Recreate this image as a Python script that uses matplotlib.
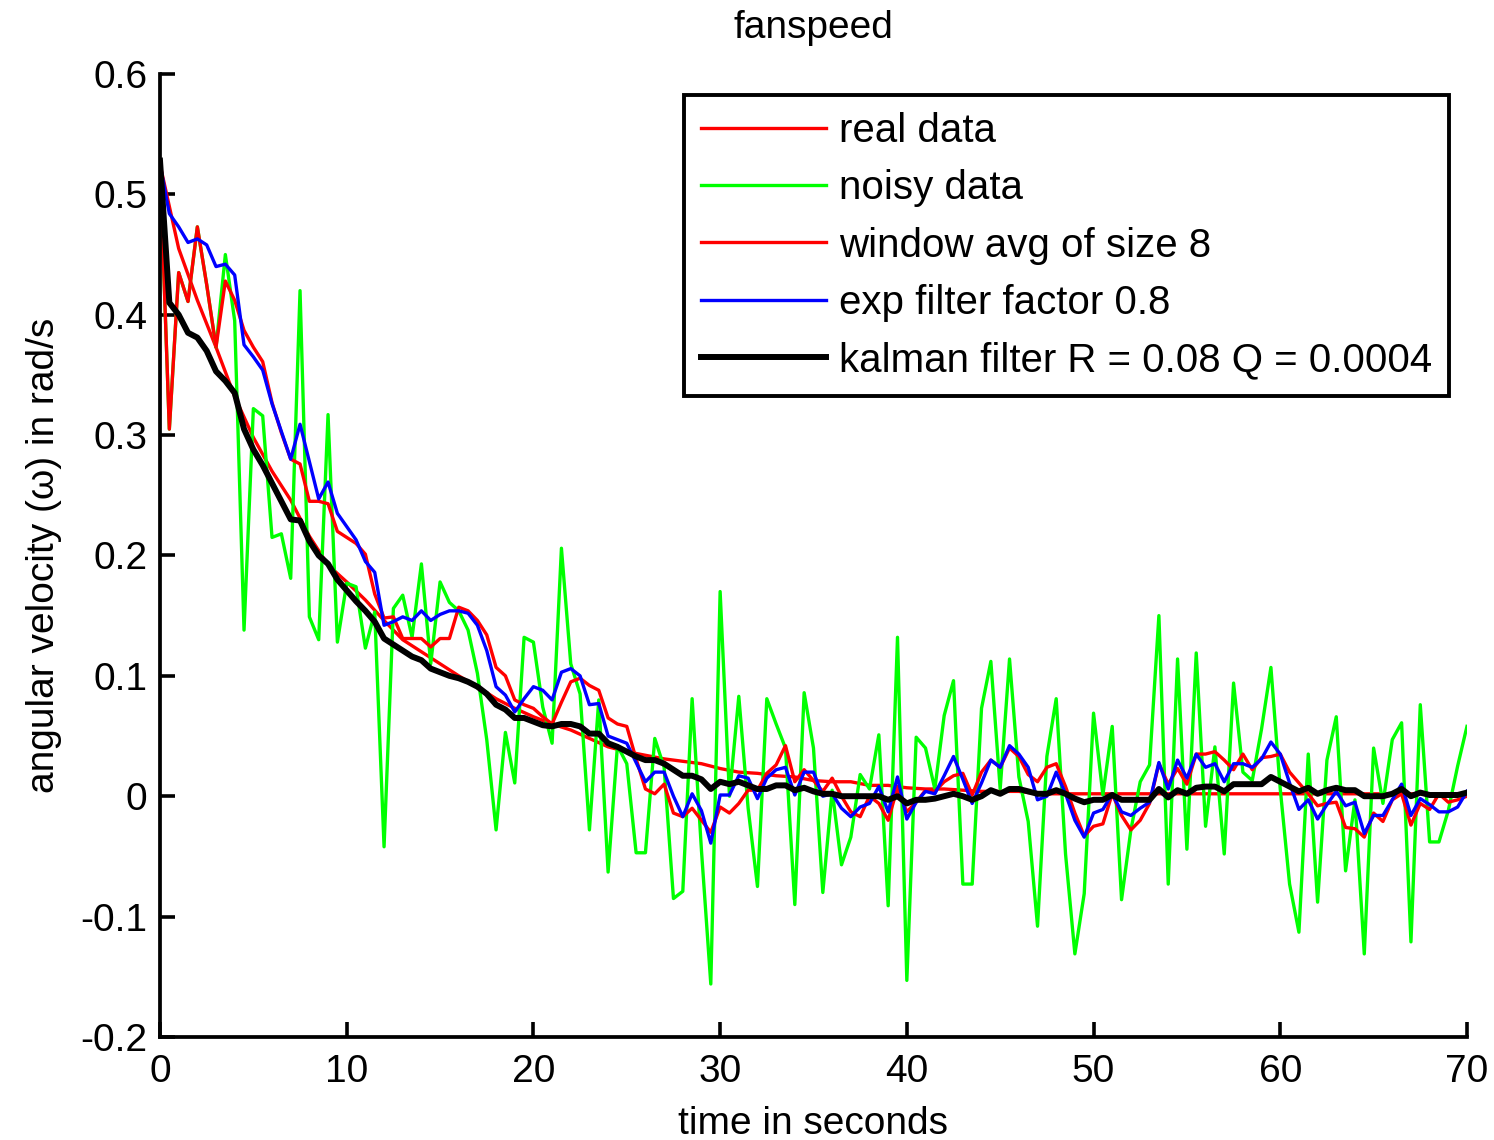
import numpy as np
import matplotlib.pyplot as plt

plt.rcParams['font.family'] = ['Liberation Sans', 'DejaVu Sans']

# samples every 0.5 s
t = np.arange(0, 70.5, 0.5)

noisy = [
    0.525, 0.305, 0.435, 0.411, 0.473, 0.425, 0.373, 0.45, 0.395, 0.138,
    0.322, 0.316, 0.215, 0.218, 0.181, 0.420, 0.149, 0.130, 0.317, 0.128,
    0.177, 0.174, 0.123, 0.153, -0.042, 0.156, 0.167, 0.132, 0.193, 0.110,
    0.178, 0.161, 0.154, 0.138, 0.102, 0.047, -0.028, 0.053, 0.011, 0.132,
    0.128, 0.074, 0.044, 0.206, 0.110, 0.085, -0.028, 0.080, -0.063, 0.042,
    0.027, -0.047, -0.047, 0.048, 0.024, -0.085, -0.079, 0.081, -0.045, -0.156,
    0.170, 0.000, 0.083, -0.010, -0.075, 0.081, 0.060, 0.040, -0.090, 0.086,
    0.040, -0.080, 0.005, -0.057, -0.034, 0.018, 0.006, 0.051, -0.091, 0.132,
    -0.153, 0.049, 0.040, 0.006, 0.067, 0.096, -0.073, -0.073, 0.073, 0.112,
    0.006, 0.114, 0.016, -0.021, -0.108, 0.033, 0.081, -0.048, -0.131, -0.081,
    0.069, 0.001, 0.058, -0.086, -0.028, 0.012, 0.026, 0.150, -0.073, 0.114,
    -0.044, 0.119, -0.025, 0.041, -0.048, 0.094, 0.020, 0.013, 0.056, 0.107,
    0.006, -0.073, -0.113, 0.035, -0.088, 0.030, 0.066, -0.062, -0.003, -0.131,
    0.040, -0.006, 0.047, 0.061, -0.121, 0.076, -0.038, -0.038, -0.012, 0.025,
    0.058,
]

window_avg = [
    0.525, 0.305, 0.435, 0.411, 0.473, 0.425, 0.373, 0.428, 0.412, 0.387,
    0.373, 0.361, 0.327, 0.302, 0.280, 0.276, 0.245, 0.245, 0.243, 0.220,
    0.215, 0.210, 0.201, 0.168, 0.148, 0.149, 0.131, 0.131, 0.131, 0.124,
    0.131, 0.131, 0.157, 0.154, 0.146, 0.134, 0.107, 0.100, 0.080, 0.076,
    0.073, 0.066, 0.060, 0.078, 0.095, 0.098, 0.092, 0.088, 0.065, 0.060,
    0.058, 0.031, 0.006, 0.002, 0.010, -0.014, -0.017, -0.010, -0.020, -0.030,
    -0.009, -0.014, -0.006, 0.005, 0.005, 0.019, 0.026, 0.042, 0.012, 0.022,
    0.013, 0.004, 0.015, 0.000, -0.013, -0.017, 0.000, -0.006, -0.020, 0.007,
    -0.013, -0.005, 0.005, 0.004, 0.012, 0.017, 0.019, 0.001, 0.020, 0.030,
    0.024, 0.040, 0.033, 0.018, 0.012, 0.024, 0.027, 0.008, -0.014, -0.033,
    -0.025, -0.023, 0.002, -0.016, -0.028, -0.020, -0.006, 0.027, 0.010, 0.023,
    0.010, 0.035, 0.035, 0.037, 0.030, 0.022, 0.035, 0.022, 0.032, 0.033,
    0.035, 0.020, 0.011, 0.002, -0.008, -0.006, -0.005, -0.026, -0.027, -0.034,
    -0.014, -0.021, -0.003, 0.002, -0.024, -0.006, -0.011, 0.002, -0.005, -0.003,
    0.000,
]

exp_filter = [
    0.525, 0.484, 0.473, 0.460, 0.463, 0.458, 0.440, 0.442, 0.433, 0.375,
    0.365, 0.354, 0.326, 0.303, 0.280, 0.309, 0.278, 0.247, 0.261, 0.235,
    0.224, 0.213, 0.195, 0.186, 0.142, 0.145, 0.149, 0.146, 0.154, 0.146,
    0.151, 0.154, 0.154, 0.152, 0.142, 0.121, 0.091, 0.084, 0.070, 0.081,
    0.091, 0.088, 0.080, 0.103, 0.106, 0.100, 0.076, 0.077, 0.050, 0.047,
    0.044, 0.028, 0.012, 0.020, 0.020, 0.000, -0.017, 0.002, -0.012, -0.039,
    0.001, 0.001, 0.017, 0.015, -0.002, 0.015, 0.022, 0.024, 0.001, 0.020,
    0.020, 0.000, 0.002, -0.010, -0.017, -0.009, -0.006, 0.008, -0.013, 0.016,
    -0.019, -0.005, 0.004, 0.002, 0.017, 0.033, 0.014, -0.006, 0.011, 0.030,
    0.024, 0.042, 0.035, 0.024, -0.003, 0.000, 0.020, 0.002, -0.020, -0.034,
    -0.014, -0.011, 0.002, -0.013, -0.016, -0.010, -0.005, 0.028, 0.006, 0.030,
    0.015, 0.035, 0.024, 0.027, 0.012, 0.027, 0.027, 0.024, 0.031, 0.045,
    0.035, 0.011, -0.011, -0.003, -0.019, -0.007, 0.004, -0.008, -0.005, -0.031,
    -0.016, -0.016, -0.003, 0.010, -0.016, -0.002, -0.007, -0.013, -0.013, -0.009,
    0.004,
]

kalman = [
    0.528, 0.410, 0.400, 0.385, 0.381, 0.370, 0.353, 0.345, 0.335, 0.305,
    0.288, 0.275, 0.260, 0.245, 0.230, 0.229, 0.212, 0.200, 0.193, 0.180,
    0.171, 0.162, 0.154, 0.145, 0.131, 0.126, 0.121, 0.116, 0.113, 0.106,
    0.103, 0.100, 0.098, 0.095, 0.091, 0.085, 0.076, 0.072, 0.065, 0.065,
    0.062, 0.059, 0.058, 0.060, 0.060, 0.058, 0.052, 0.052, 0.044, 0.041,
    0.037, 0.033, 0.030, 0.030, 0.027, 0.022, 0.017, 0.017, 0.014, 0.006,
    0.012, 0.010, 0.012, 0.009, 0.006, 0.006, 0.009, 0.009, 0.005, 0.007,
    0.004, 0.002, 0.002, 0.000, 0.000, 0.000, 0.000, 0.000, -0.003, 0.000,
    -0.006, -0.003, -0.003, -0.002, 0.000, 0.002, 0.000, -0.003, 0.000, 0.005,
    0.002, 0.006, 0.006, 0.004, 0.002, 0.002, 0.005, 0.002, -0.002, -0.005,
    -0.003, -0.003, 0.001, -0.003, -0.003, -0.003, -0.003, 0.006, -0.001, 0.005,
    0.002, 0.007, 0.008, 0.008, 0.004, 0.010, 0.010, 0.010, 0.010, 0.016,
    0.012, 0.008, 0.004, 0.007, 0.002, 0.005, 0.007, 0.005, 0.005, 0.000,
    0.000, 0.000, 0.002, 0.006, 0.000, 0.003, 0.001, 0.001, 0.001, 0.001,
    0.003,
]

# real signal, read once per second
t_real = np.arange(0, 71, 1)
real = [
    0.525, 0.455, 0.412, 0.373, 0.332, 0.298, 0.270, 0.246, 0.216, 0.192,
    0.178, 0.163, 0.146, 0.130, 0.120, 0.110, 0.100, 0.091, 0.081, 0.073,
    0.066, 0.060, 0.055, 0.048, 0.041, 0.037, 0.034, 0.031, 0.029, 0.027,
    0.023, 0.020, 0.019, 0.017, 0.016, 0.013, 0.012, 0.012, 0.009, 0.009,
    0.007, 0.006, 0.006, 0.005, 0.004, 0.004, 0.004, 0.002, 0.002, 0.002,
    0.002, 0.002, 0.002, 0.002, 0.002, 0.002, 0.002, 0.002, 0.002, 0.002,
    0.002, 0.002, 0.002, 0.002, 0.002, 0.002, 0.002, 0.002, 0.002, 0.002,
    0.002,
]

xticks = [0, 10, 20, 30, 40, 50, 60, 70]
yticks = [-0.2, -0.1, 0, 0.1, 0.2, 0.3, 0.4, 0.5, 0.6]
ytick_labels = ['-0.2', '-0.1', '0', '0.1', '0.2', '0.3', '0.4', '0.5', '0.6']

fig = plt.figure(figsize=(14.94, 11.40), dpi=100)
ax = fig.add_axes([0.1071, 0.0904, 0.8748, 0.8447])

ax.plot(t_real, real, color='#ff0000', lw=2.4, label='real data')
ax.plot(t, noisy, color='#00ff00', lw=2.4, label='noisy data')
ax.plot(t, window_avg, color='#ff0000', lw=2.4, label='window avg of size 8')
ax.plot(t, exp_filter, color='#0000ff', lw=2.4, label='exp filter factor 0.8')
ax.plot(t, kalman, color='black', lw=4.3, label='kalman filter R = 0.08 Q = 0.0004')

ax.set_xlim(0, 70)
ax.set_ylim(-0.2, 0.6)
ax.set_xticks(xticks)
ax.set_xticklabels([str(x) for x in xticks])
ax.set_yticks(yticks)
ax.set_yticklabels(ytick_labels)

for s in ['top', 'right']:
    ax.spines[s].set_visible(False)
for s in ['left', 'bottom']:
    ax.spines[s].set_linewidth(2.7)
ax.tick_params(direction='in', length=11, width=2.6, labelsize=28)
ax.tick_params(axis='x', pad=12)
ax.tick_params(axis='y', pad=9)

ax.set_title('fanspeed', fontsize=28, pad=26)
ax.set_xlabel('time in seconds', fontsize=28, labelpad=12)
ax.set_ylabel('angular velocity (\u03c9) in rad/s', fontsize=28, labelpad=13)

leg = ax.legend(loc='upper right', bbox_to_anchor=(0.9862, 0.9782), borderaxespad=0,
                fontsize=29, handlelength=3.1, handletextpad=0.32, labelspacing=0.48,
                borderpad=0.42, fancybox=False, framealpha=1, edgecolor='black')
leg.get_frame().set_linewidth(2.8)

fig.savefig('out.png', dpi=100)
